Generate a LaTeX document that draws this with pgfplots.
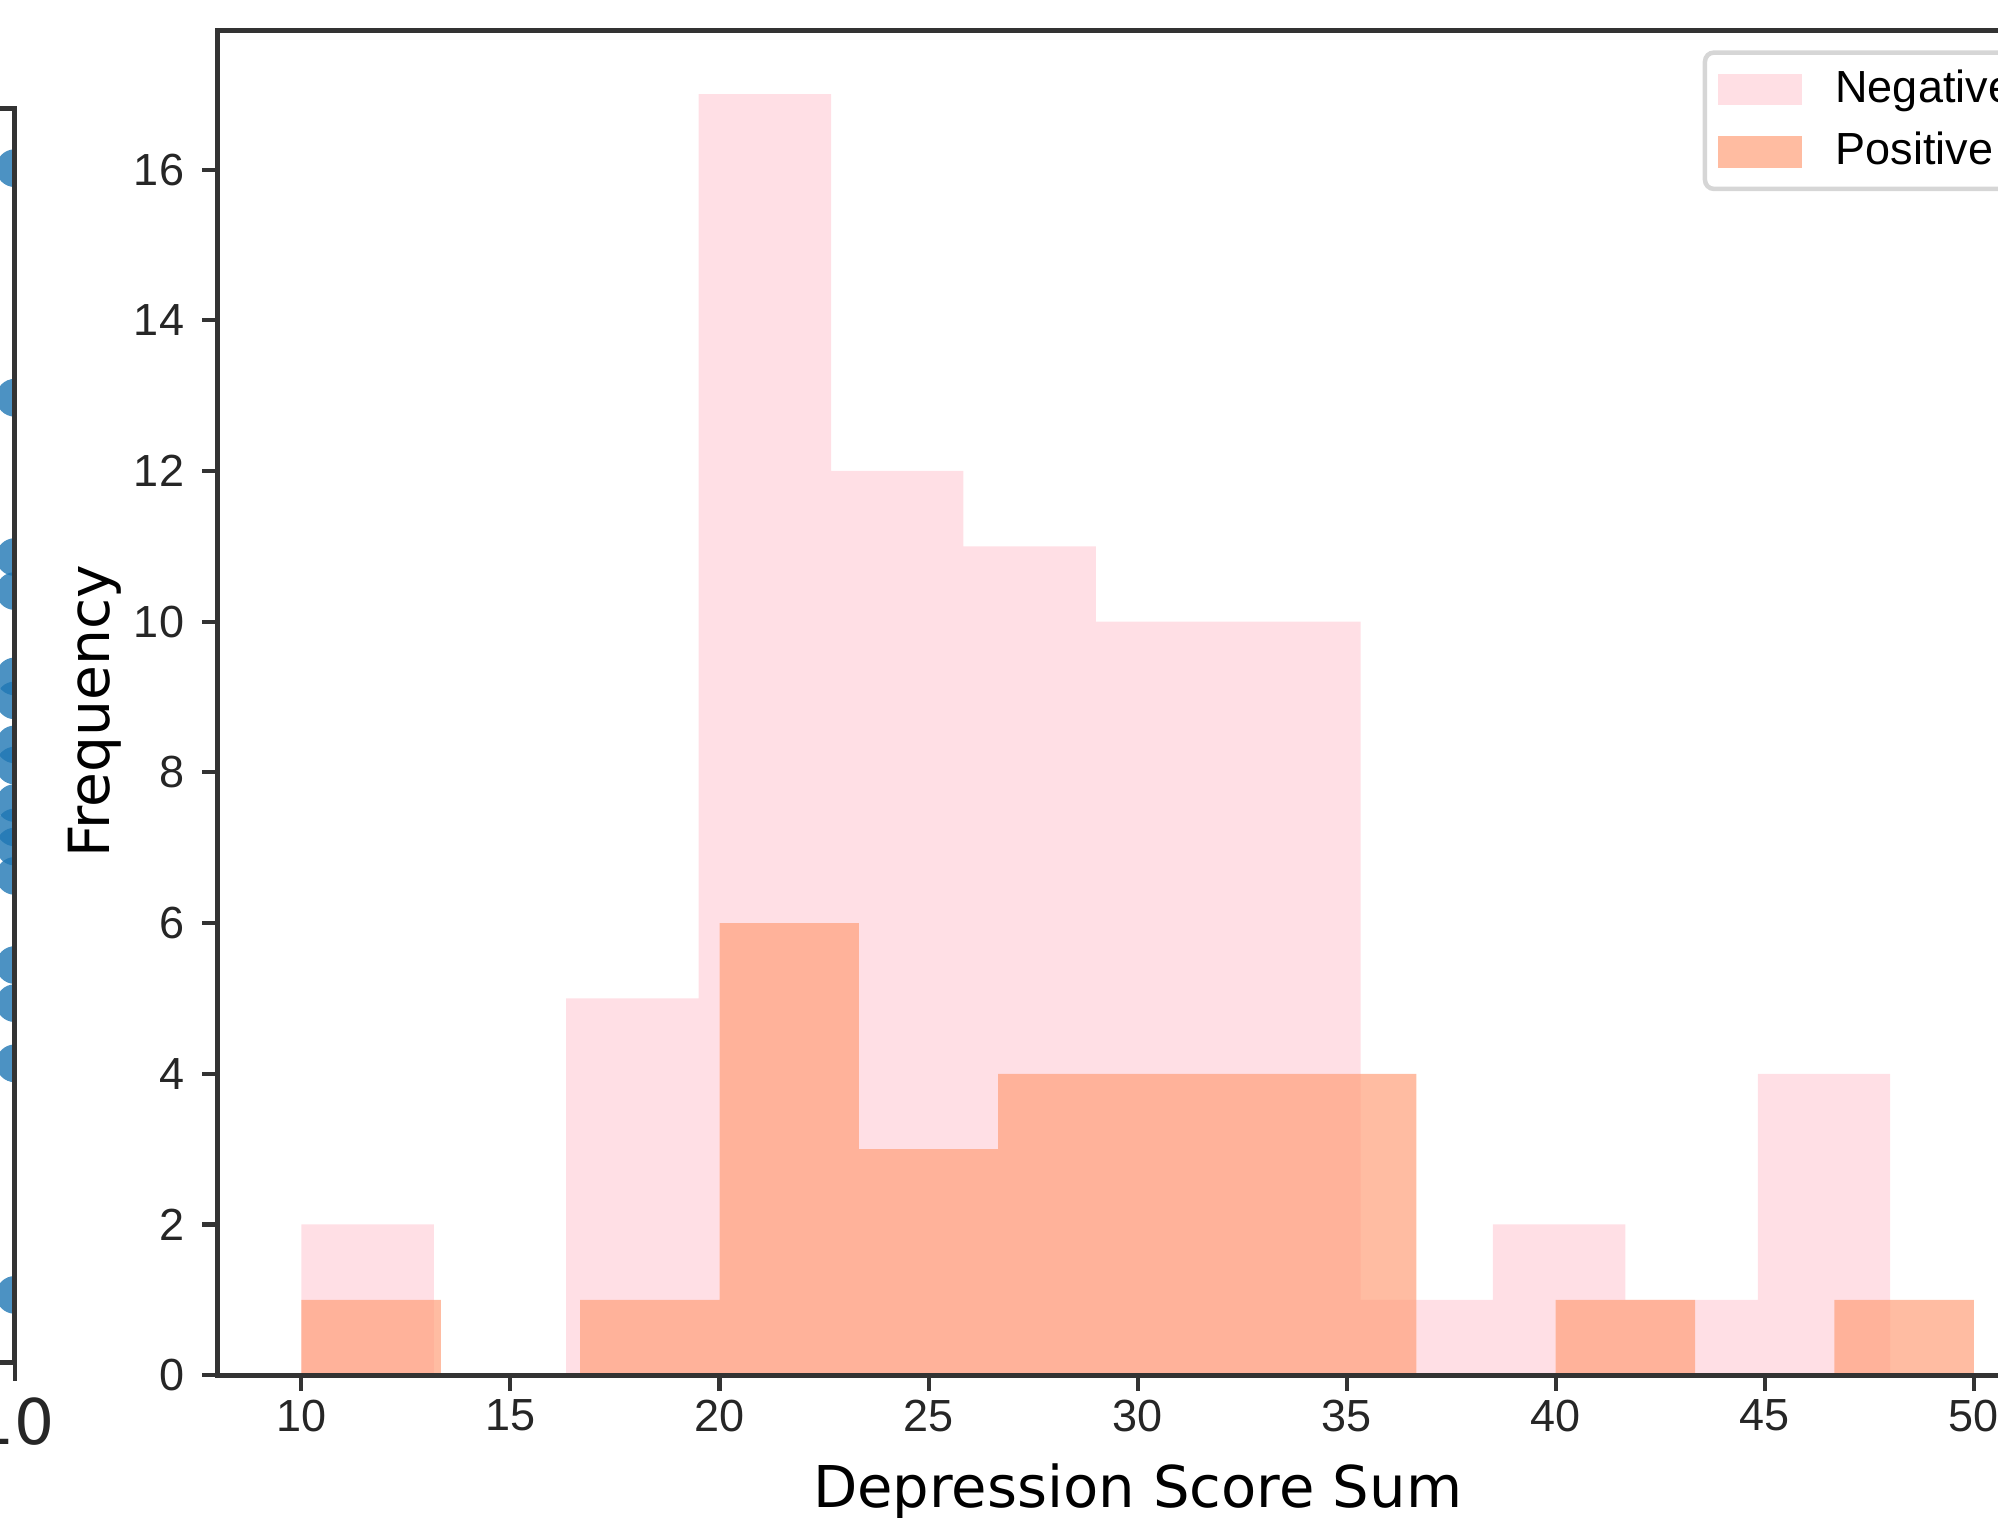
\documentclass[border=0pt]{standalone}
\usepackage{pgfplots}
\pgfplotsset{compat=1.18}
\usepackage{fontspec}
\setmainfont{DejaVu Sans}
\newfontfamily\arialf{Liberation Sans}
\definecolor{negc}{RGB}{255,192,203}
\definecolor{posc}{RGB}{255,160,122}
\definecolor{tabblue}{RGB}{31,119,180}
\definecolor{spine}{RGB}{51,51,51}
\begin{document}
\begin{tikzpicture}
\useasboundingbox (0,0) rectangle (444.0pt,337.3pt);
\clip (0,0) rectangle (444.0pt,337.3pt);
% neighbouring (cropped) subplot on the left
\begin{axis}[
  at={(3.3pt,34.5pt)}, anchor=south east,
  scale only axis, width=200pt, height=278.6pt,
  xmin=0, xmax=10, ymin=0, ymax=1,
  xtick={10}, ytick=\empty,
  xtick pos=bottom, tick align=outside, major tick length=4pt,
  axis line style={spine, line width=1.1pt},
  tick style={spine, line width=0.9pt},
  axis on top, clip marker paths=true,
  /pgf/number format/assume math mode=true,
  xticklabel style={font=\fontsize{14}{16}\selectfont, anchor=north, inner sep=0pt, yshift=-3.6pt, text=black!85},
]
\addplot[only marks, color=tabblue, mark=*, mark size=4.2pt, mark options={fill=tabblue, fill opacity=0.8, draw opacity=0}] coordinates {
(10,0.9527) (10,0.7696) (10,0.6425) (10,0.6154) (10,0.5473) (10,0.5282)
(10,0.4931) (10,0.4762) (10,0.4463) (10,0.4269) (10,0.4116) (10,0.3882)
(10,0.3171) (10,0.2867) (10,0.2387) (10,0.0540)
};
\end{axis}
% main histogram
\begin{axis}[
  at={(48.4pt,31.7pt)}, anchor=south west,
  scale only axis, width=408.8pt, height=298.9pt,
  xmin=8, xmax=52, ymin=0, ymax=17.85,
  xtick={10,15,...,50}, ytick={0,2,...,16},
  xtick pos=bottom, ytick pos=left,
  tick align=outside, major tick length=3.5pt,
  axis line style={spine, line width=1.1pt},
  tick style={spine, line width=0.9pt},
  axis on top,
  /pgf/number format/assume math mode=true,
  tick label style={font=\arialf\fontsize{10}{12}\selectfont, text=black!85},
  xticklabel style={anchor=north, inner sep=0pt, yshift=-1.8pt},
  yticklabel style={anchor=east, inner sep=0pt, xshift=-3.8pt},
  xlabel={Depression Score Sum},
  xlabel style={at={(axis description cs:0.5,-0.0987)}, anchor=base, inner sep=0pt, font=\fontsize{12.8}{15}\selectfont},
  ylabel={Frequency},
  ylabel style={at={(axis description cs:-0.0587,0.4937)}, anchor=base, inner sep=0pt, font=\fontsize{12.6}{15}\selectfont},
  legend image code/.code={\fill[#1, sharp corners] (0pt,-3.5pt) rectangle (18.5pt,3.5pt);},
  legend cell align=left,
  legend style={at={(0.8072,0.985)}, anchor=north west, draw=black!16, line width=1pt, rounded corners=2pt,
    fill=white, font=\arialf\fontsize{10}{12}\selectfont, inner xsep=3pt, inner ysep=3pt, row sep=3.3pt, column sep=7pt,
    nodes={inner sep=0.5pt, text height=7.5pt, text depth=2pt}},
]
\addplot[ybar interval, fill=negc, fill opacity=0.5, draw=none] coordinates {
(10,2) (13.1667,0) (16.3333,5) (19.5,17) (22.6667,12) (25.8333,11) (29,10)
(32.1667,10) (35.3333,1) (38.5,2) (41.6667,1) (44.8333,4) (48,4)
};
\addlegendentry{Negative}
\addplot[ybar interval, fill=posc, fill opacity=0.7, draw=none] coordinates {
(10,1) (13.3333,0) (16.6667,1) (20,6) (23.3333,3) (26.6667,4) (30,4)
(33.3333,4) (36.6667,0) (40,1) (43.3333,0) (46.6667,1) (50,1)
};
\addlegendentry{Positive}
\end{axis}
\end{tikzpicture}
\end{document}
